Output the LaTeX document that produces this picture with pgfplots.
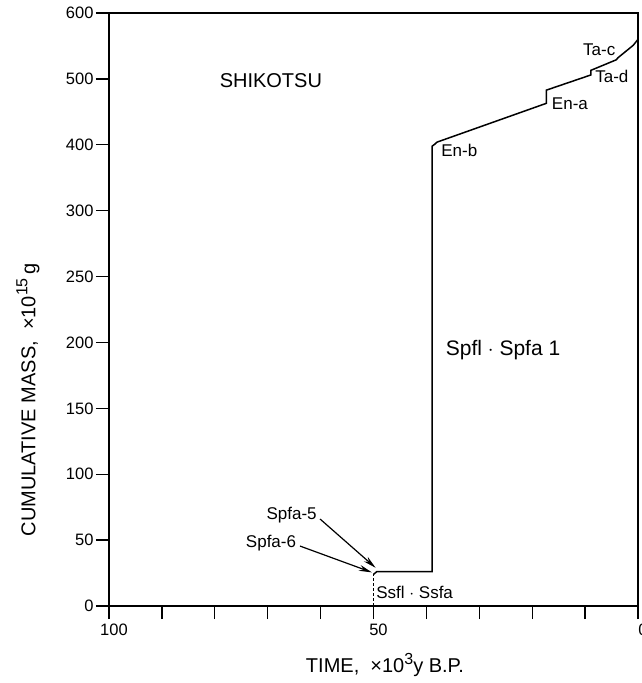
\documentclass[border=0pt]{standalone}
\usepackage{fontspec}
\setmainfont{Liberation Sans}
\usepackage{pgfplots}
\pgfplotsset{compat=1.18}
\usetikzlibrary{arrows.meta}
\begin{document}
\begin{tikzpicture}[x=1pt,y=1pt]
\path[use as bounding box] (0,0) rectangle (641,683);
\begin{axis}[
  at={(109pt,77pt)}, anchor=south west,
  scale only axis, width=529pt, height=593pt,
  x dir=reverse, xmin=0, xmax=100, ymin=0, ymax=600,
  y coord trafo/.code={\pgfmathparse{min(#1/50,3+#1/100)}},
  xtick={0,10,...,100},
  xticklabels={0,{},{},{},{},50,{},{},{},{},100},
  ytick={0,50,100,150,200,250,300,400,500,600},
  yticklabels={0,50,100,150,200,250,300,400,500,600},
  tick align=outside, major tick length=13pt,
  xtick pos=bottom, ytick pos=left,
  axis line style={line width=1.4pt},
  tick style={line width=1.3pt, black},
  /pgf/number format/assume math mode=true,
  ticklabel style={font=\fontsize{16.5}{19}\selectfont},
  xticklabel style={xshift=5pt, yshift=-1pt},
  yticklabel style={xshift=1pt},
  clip=false,
]
\addplot[black, line width=1pt, dash pattern=on 3pt off 2pt] coordinates {(50,0) (50,24)};
\addplot[black, line width=1.5pt] coordinates {
  (50,24) (49.4,26) (38.9,26) (38.9,398) (38.4,401) (38.0,404)
  (17.3,463) (17.3,483) (8.9,506) (8.9,513) (4.1,529) (3.8,532)
  (0.9,551) (0.3,557) (0,560)};
\addplot[black, line width=1.2pt, -{Stealth[length=13pt,width=6pt]}] coordinates {(60.1,66) (49.6,29)};
\addplot[black, line width=1.2pt, -{Stealth[length=13pt,width=6pt]}] coordinates {(63.9,45.5) (50.3,25.5)};
\node[font=\fontsize{20}{24}\selectfont] at (axis cs:69.4,498) {SHIKOTSU};
\node[font=\fontsize{21}{25}\selectfont] at (axis cs:25.5,194) {Spfl $\cdot$ Spfa 1};
\node[font=\fontsize{17}{20}\selectfont, anchor=west, inner sep=0pt] at (axis cs:37.2,392) {En-b};
\node[font=\fontsize{17}{20}\selectfont, anchor=west, inner sep=0pt] at (axis cs:16.3,463) {En-a};
\node[font=\fontsize{17}{20}\selectfont, anchor=west, inner sep=0pt] at (axis cs:8.1,504) {Ta-d};
\node[font=\fontsize{17}{20}\selectfont, anchor=west, inner sep=0pt] at (axis cs:10.4,544) {Ta-c};
\node[font=\fontsize{17}{20}\selectfont, anchor=west, inner sep=0pt] at (axis cs:49.5,10.6) {Ssfl $\cdot$ Ssfa};
\node[font=\fontsize{17}{20}\selectfont, anchor=east, inner sep=0pt] at (axis cs:60.7,69) {Spfa-5};
\node[font=\fontsize{17}{20}\selectfont, anchor=east, inner sep=0pt] at (axis cs:64.6,47.8) {Spfa-6};
\end{axis}
\node[font=\fontsize{20}{24}\selectfont] at (385,18) {TIME,\ \ ×10\raisebox{0.75ex}{\fontsize{16}{18}\selectfont 3}y B.P.};
\node[font=\fontsize{20}{24}\selectfont, rotate=90] at (28,283) {CUMULATIVE MASS,\ \ ×10\raisebox{0.75ex}{\fontsize{16}{18}\selectfont 15}\,g};
\end{tikzpicture}
\end{document}
